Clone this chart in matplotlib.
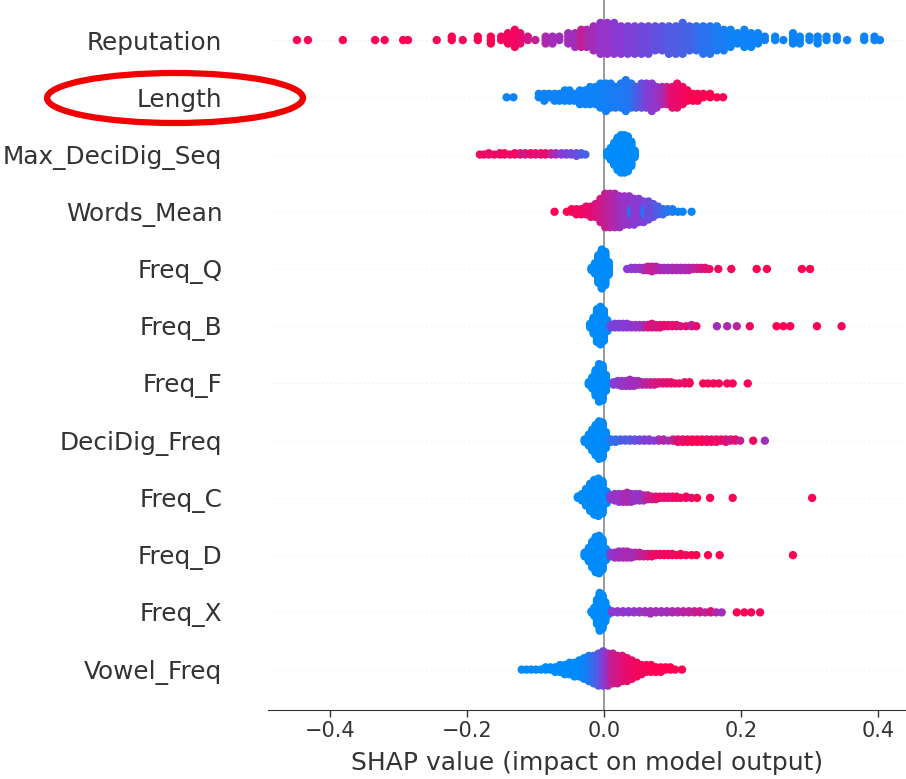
import numpy as np
import matplotlib
matplotlib.use('Agg')
import matplotlib.pyplot as plt
from matplotlib.colors import LinearSegmentedColormap
from matplotlib.patches import Ellipse

# Feature order from bottom (row 0) to top
features = ['Vowel_Freq', 'Freq_X', 'Freq_D', 'Freq_C', 'DeciDig_Freq', 'Freq_F',
            'Freq_B', 'Freq_Q', 'Words_Mean', 'Max_DeciDig_Seq', 'Length', 'Reputation']

# For each feature: SHAP value of a column of points, how many points, feature value (0 low .. 1 high)
reputation_shap = [-0.448, -0.432, -0.381, -0.334, -0.320, -0.293, -0.286, -0.244, -0.222, -0.206,
                   -0.184, -0.165, -0.150, -0.140, -0.130, -0.122, -0.111, -0.100, -0.085, -0.075,
                   -0.065, -0.052, -0.042, -0.033, -0.025, -0.015, -0.005, 0.005, 0.015, 0.025,
                   0.035, 0.045, 0.055, 0.065, 0.075, 0.085, 0.095, 0.105, 0.115, 0.125,
                   0.135, 0.145, 0.155, 0.165, 0.175, 0.185, 0.195, 0.205, 0.215, 0.225,
                   0.235, 0.250, 0.262, 0.276, 0.286, 0.300, 0.312, 0.325, 0.340, 0.355,
                   0.380, 0.395, 0.403]
reputation_n = [1, 1, 1, 1, 1, 1, 1, 1, 2, 1,
                2, 3, 2, 4, 6, 4, 2, 1, 3, 3,
                2, 4, 5, 6, 6, 8, 10, 10, 10, 9,
                9, 9, 9, 9, 8, 8, 9, 9, 10, 8,
                8, 9, 9, 8, 7, 6, 4, 6, 5, 4,
                2, 2, 1, 4, 3, 2, 3, 2, 2, 1,
                2, 2, 1]
reputation_val = [1.0, 1.0, 1.0, 1.0, 1.0, 1.0, 1.0, 0.95, 1.0, 0.95,
                  1.0, 1.0, 0.95, 0.95, 0.95, 0.9, 0.8, 0.75, 0.65, 0.6,
                  0.6, 0.6, 0.6, 0.75, 0.65, 0.6, 0.55, 0.55, 0.5, 0.5,
                  0.45, 0.45, 0.4, 0.4, 0.35, 0.35, 0.3, 0.3, 0.25, 0.25,
                  0.2, 0.15, 0.15, 0.1, 0.1, 0.05, 0.05, 0.05, 0.05, 0.05,
                  0.05, 0.05, 0.05, 0.05, 0.05, 0.05, 0.05, 0.05, 0.05, 0.05,
                  0.05, 0.05, 0.05]

length_shap = [-0.142, -0.132, -0.095, -0.087, -0.080, -0.072, -0.065, -0.057, -0.050, -0.043,
               -0.035, -0.027, -0.020, -0.012, -0.005, 0.003, 0.010, 0.017, 0.025, 0.032,
               0.040, 0.047, 0.055, 0.062, 0.070, 0.077, 0.085, 0.092, 0.100, 0.107,
               0.115, 0.122, 0.130, 0.137, 0.145, 0.155, 0.165, 0.174]
length_n = [1, 1, 2, 3, 2, 3, 3, 4, 4, 3,
            5, 5, 6, 6, 8, 9, 8, 7, 8, 10,
            8, 7, 8, 8, 9, 7, 6, 6, 7, 8,
            6, 4, 3, 3, 2, 2, 1, 1]
length_val = [0.05, 0.05, 0.05, 0.05, 0.05, 0.05, 0.05, 0.05, 0.05, 0.05,
              0.05, 0.05, 0.05, 0.05, 0.05, 0.08, 0.08, 0.1, 0.1, 0.12,
              0.15, 0.25, 0.35, 0.45, 0.5, 0.55, 0.6, 0.75, 0.9, 0.9,
              0.95, 0.95, 1.0, 1.0, 1.0, 1.0, 1.0, 1.0]

maxdeci_shap = [-0.181, -0.175, -0.168, -0.160, -0.152, -0.145, -0.137, -0.130, -0.122, -0.115,
                -0.107, -0.100, -0.092, -0.085, -0.077, -0.070, -0.062, -0.055, -0.048, -0.040,
                -0.033, -0.027, 0.005, 0.010, 0.015, 0.020, 0.025, 0.030, 0.035, 0.040, 0.045]
maxdeci_n = [1, 1, 2, 1, 2, 2, 1, 2, 2, 2,
             2, 2, 2, 2, 2, 2, 2, 2, 2, 3,
             2, 1, 4, 10, 18, 26, 30, 30, 28, 20, 6]
maxdeci_val = [0.95, 0.95, 0.9, 0.95, 0.9, 1.0, 0.9, 0.95, 0.85, 0.8,
               0.9, 0.85, 0.9, 0.9, 0.75, 0.6, 0.5, 0.45, 0.4, 0.4,
               0.3, 0.25, 0.0, 0.0, 0.0, 0.0, 0.0, 0.0, 0.0, 0.0, 0.0]

words_shap = [-0.072, -0.054, -0.047, -0.040, -0.033, -0.026, -0.019, -0.012, -0.005, 0.002,
              0.009, 0.016, 0.023, 0.030, 0.037, 0.040, 0.044, 0.051, 0.058, 0.060,
              0.065, 0.072, 0.079, 0.086, 0.093, 0.100, 0.108, 0.115, 0.128]
words_n = [1, 1, 2, 3, 3, 4, 5, 6, 10, 14,
           14, 14, 13, 12, 12, 3, 11, 10, 9, 3,
           8, 6, 4, 3, 2, 2, 1, 1, 1]
words_val = [1.0, 1.0, 1.0, 0.95, 0.95, 0.9, 0.9, 0.85, 0.8, 0.75,
             0.7, 0.65, 0.6, 0.55, 0.55, 0.1, 0.5, 0.5, 0.45, 0.1,
             0.4, 0.35, 0.3, 0.2, 0.15, 0.1, 0.05, 0.05, 0.05]

freqq_shap = [-0.018, -0.013, -0.008, -0.003, 0.002, 0.007, 0.034, 0.040, 0.046, 0.052,
              0.058, 0.064, 0.070, 0.076, 0.082, 0.088, 0.094, 0.100, 0.106, 0.112,
              0.118, 0.124, 0.130, 0.136, 0.142, 0.148, 0.154, 0.167, 0.186, 0.223,
              0.238, 0.289, 0.301]
freqq_n = [3, 10, 25, 35, 30, 12, 1, 2, 2, 2,
           3, 4, 5, 4, 3, 3, 3, 3, 3, 3,
           3, 3, 2, 2, 2, 2, 1, 1, 1, 1,
           1, 1, 1]
freqq_val = [0.0, 0.0, 0.0, 0.0, 0.0, 0.0, 0.5, 0.5, 0.55, 0.55,
             0.6, 0.7, 0.75, 0.7, 0.65, 0.6, 0.6, 0.6, 0.65, 0.6,
             0.65, 0.65, 0.7, 0.75, 0.8, 0.85, 0.9, 0.95, 0.95, 1.0,
             1.0, 1.0, 1.0]

freqb_shap = [-0.020, -0.015, -0.010, -0.005, 0.000, 0.005, 0.010, 0.016, 0.022, 0.028,
              0.034, 0.040, 0.046, 0.052, 0.058, 0.064, 0.070, 0.076, 0.082, 0.088,
              0.094, 0.100, 0.106, 0.112, 0.120, 0.128, 0.135, 0.165, 0.180, 0.194,
              0.213, 0.252, 0.262, 0.272, 0.311, 0.347]
freqb_n = [4, 14, 28, 32, 26, 10, 3, 4, 4, 4,
           4, 3, 3, 3, 3, 3, 4, 3, 3, 2,
           2, 2, 2, 1, 1, 2, 1, 1, 1, 1,
           1, 1, 1, 1, 1, 1]
freqb_val = [0.0, 0.0, 0.0, 0.0, 0.0, 0.0, 0.4, 0.45, 0.45, 0.5,
             0.5, 0.5, 0.55, 0.55, 0.6, 0.8, 0.85, 0.8, 0.85, 0.9,
             0.9, 0.85, 0.9, 0.8, 0.9, 0.75, 0.9, 0.6, 0.65, 0.7,
             0.95, 1.0, 1.0, 1.0, 1.0, 0.95]

freqf_shap = [-0.022, -0.017, -0.012, -0.007, -0.002, 0.003, 0.014, 0.020, 0.026, 0.032,
              0.038, 0.044, 0.050, 0.056, 0.062, 0.068, 0.074, 0.080, 0.086, 0.092,
              0.098, 0.104, 0.110, 0.118, 0.125, 0.145, 0.152, 0.160, 0.168, 0.180,
              0.188, 0.210]
freqf_n = [3, 10, 22, 32, 30, 14, 3, 4, 5, 5,
           6, 5, 4, 3, 3, 3, 3, 2, 2, 2,
           2, 1, 1, 2, 2, 1, 1, 1, 1, 1,
           1, 1]
freqf_val = [0.0, 0.0, 0.0, 0.0, 0.0, 0.0, 0.45, 0.5, 0.55, 0.55,
             0.6, 0.6, 0.6, 0.65, 0.7, 0.75, 0.8, 0.85, 0.85, 0.9,
             0.9, 0.9, 0.95, 0.9, 0.95, 1.0, 0.95, 1.0, 0.95, 1.0,
             1.0, 1.0]

decifreq_shap = [-0.028, -0.022, -0.017, -0.012, -0.007, -0.002, 0.003, 0.010, 0.017, 0.024,
                 0.031, 0.038, 0.045, 0.052, 0.059, 0.066, 0.073, 0.080, 0.087, 0.094,
                 0.101, 0.108, 0.115, 0.122, 0.129, 0.136, 0.143, 0.150, 0.157, 0.164,
                 0.171, 0.178, 0.185, 0.192, 0.199, 0.218, 0.235]
decifreq_n = [3, 10, 18, 26, 32, 30, 14, 3, 3, 2,
              2, 2, 2, 2, 2, 2, 1, 2, 2, 1,
              2, 3, 3, 3, 3, 3, 3, 3, 3, 3,
              2, 3, 2, 2, 1, 1, 1]
decifreq_val = [0.0, 0.0, 0.0, 0.0, 0.0, 0.0, 0.0, 0.15, 0.2, 0.25,
                0.3, 0.3, 0.35, 0.4, 0.45, 0.5, 0.45, 0.6, 0.7, 0.6,
                0.75, 0.9, 0.9, 0.95, 1.0, 0.95, 1.0, 0.9, 0.95, 0.9,
                0.95, 0.85, 0.8, 0.9, 0.75, 0.95, 0.6]

freqc_shap = [-0.038, -0.032, -0.026, -0.020, -0.014, -0.008, -0.002, 0.004, 0.010, 0.016,
              0.022, 0.028, 0.034, 0.040, 0.046, 0.052, 0.058, 0.064, 0.070, 0.076,
              0.082, 0.088, 0.094, 0.100, 0.106, 0.112, 0.120, 0.128, 0.136, 0.155,
              0.188, 0.304]
freqc_n = [2, 6, 14, 22, 28, 30, 26, 10, 4, 6,
           7, 7, 8, 7, 6, 6, 5, 4, 3, 3,
           2, 2, 2, 2, 2, 1, 2, 1, 1, 1,
           1, 1]
freqc_val = [0.0, 0.0, 0.0, 0.0, 0.0, 0.0, 0.0, 0.0, 0.5, 0.55,
             0.55, 0.6, 0.65, 0.6, 0.55, 0.55, 0.6, 0.75, 0.8, 0.85,
             0.9, 0.85, 0.9, 0.85, 0.95, 0.9, 0.95, 0.9, 1.0, 1.0,
             1.0, 1.0]

freqd_shap = [-0.028, -0.022, -0.017, -0.012, -0.007, -0.002, 0.003, 0.010, 0.016, 0.022,
              0.028, 0.034, 0.040, 0.046, 0.052, 0.058, 0.064, 0.070, 0.076, 0.082,
              0.088, 0.094, 0.100, 0.106, 0.112, 0.120, 0.128, 0.135, 0.152, 0.169,
              0.276]
freqd_n = [4, 12, 22, 30, 32, 26, 10, 4, 5, 6,
           6, 6, 5, 4, 4, 3, 3, 3, 2, 2,
           2, 2, 2, 1, 2, 1, 1, 1, 1, 1,
           1]
freqd_val = [0.0, 0.0, 0.0, 0.0, 0.0, 0.0, 0.0, 0.5, 0.55, 0.6,
             0.6, 0.65, 0.6, 0.65, 0.7, 0.75, 0.8, 0.9, 0.95, 0.9,
             0.95, 1.0, 0.9, 0.95, 1.0, 0.95, 1.0, 1.0, 1.0, 1.0,
             1.0]

freqx_shap = [-0.018, -0.014, -0.010, -0.006, -0.002, 0.002, 0.006, 0.012, 0.020, 0.028,
              0.036, 0.044, 0.052, 0.060, 0.068, 0.076, 0.084, 0.092, 0.100, 0.108,
              0.116, 0.124, 0.132, 0.140, 0.148, 0.156, 0.164, 0.172, 0.194, 0.205,
              0.215, 0.228]
freqx_n = [2, 8, 22, 34, 30, 18, 6, 2, 2, 2,
           2, 2, 2, 2, 3, 2, 2, 2, 2, 2,
           2, 2, 2, 2, 1, 2, 1, 1, 1, 1,
           1, 1]
freqx_val = [0.0, 0.0, 0.0, 0.0, 0.0, 0.0, 0.0, 0.5, 0.5, 0.55,
             0.5, 0.55, 0.55, 0.6, 0.6, 0.6, 0.6, 0.6, 0.65, 0.65,
             0.7, 0.7, 0.75, 0.8, 0.7, 0.85, 0.65, 0.6, 1.0, 1.0,
             0.95, 0.95]

vowel_shap = [-0.120, -0.113, -0.106, -0.099, -0.092, -0.085, -0.078, -0.071, -0.064, -0.057,
              -0.050, -0.043, -0.036, -0.029, -0.022, -0.015, -0.008, -0.001, 0.006, 0.013,
              0.020, 0.027, 0.034, 0.041, 0.048, 0.055, 0.062, 0.069, 0.076, 0.083,
              0.090, 0.097, 0.104, 0.114]
vowel_n = [1, 1, 1, 1, 1, 2, 2, 3, 4, 5,
           6, 7, 8, 10, 12, 13, 15, 16, 15, 14,
           13, 12, 11, 9, 7, 5, 4, 4, 3, 3,
           2, 2, 1, 1]
vowel_val = [0.0, 0.0, 0.0, 0.0, 0.0, 0.0, 0.0, 0.0, 0.0, 0.0,
             0.0, 0.0, 0.0, 0.05, 0.1, 0.2, 0.3, 0.45, 0.6, 0.75,
             0.8, 0.85, 0.9, 0.9, 0.95, 0.95, 0.95, 1.0, 1.0, 1.0,
             1.0, 1.0, 1.0, 1.0]

rows = [
    (vowel_shap, vowel_n, vowel_val),
    (freqx_shap, freqx_n, freqx_val),
    (freqd_shap, freqd_n, freqd_val),
    (freqc_shap, freqc_n, freqc_val),
    (decifreq_shap, decifreq_n, decifreq_val),
    (freqf_shap, freqf_n, freqf_val),
    (freqb_shap, freqb_n, freqb_val),
    (freqq_shap, freqq_n, freqq_val),
    (words_shap, words_n, words_val),
    (maxdeci_shap, maxdeci_n, maxdeci_val),
    (length_shap, length_n, length_val),
    (reputation_shap, reputation_n, reputation_val),
]

# shap-like red/blue colormap
red_blue = LinearSegmentedColormap.from_list(
    'red_blue', ['#008bfb', '#8a3ad4', '#ff0052'])


def swarm_offsets(shaps, row_height=0.4, nbins=100):
    # same stacking as shap's beeswarm
    N = len(shaps)
    quant = np.round(nbins * (shaps - shaps.min()) / (shaps.max() - shaps.min() + 1e-8))
    inds = np.argsort(quant, kind='stable')
    layer = 0
    last_bin = -1
    ys = np.zeros(N)
    for ind in inds:
        if quant[ind] != last_bin:
            layer = 0
        ys[ind] = np.ceil(layer / 2) * ((layer % 2) * 2 - 1)
        layer += 1
        last_bin = quant[ind]
    ys *= 0.9 * (row_height / np.max(ys + 1))
    return ys


fig = plt.figure(figsize=(9.06, 7.79), dpi=100)
ax = fig.add_axes([0.296, 0.089, 0.704, 0.911])

ax.axvline(x=0, color='#888888', lw=1.2, zorder=-1)

for pos, (xs, ns, vals) in enumerate(rows):
    ax.axhline(y=pos, color='#cccccc', lw=0.5, dashes=(1, 5), zorder=-1)
    shaps = np.repeat(np.array(xs, dtype=float), ns)
    cvals = np.repeat(np.array(vals, dtype=float), ns)
    ys = swarm_offsets(shaps)
    ax.scatter(shaps, pos + ys, c=cvals, cmap=red_blue, vmin=0, vmax=1,
               s=36, linewidths=0, alpha=1, zorder=3)

ax.set_xlim(-0.49, 0.441)
ax.set_ylim(-0.70, 11.70)
ax.set_yticks(range(len(features)))
ax.set_yticklabels(features, fontsize=17.8, color='#333333')
ax.tick_params(axis='y', length=0, pad=33)
ax.set_xticks([-0.4, -0.2, 0.0, 0.2, 0.4])
ax.tick_params(axis='x', labelsize=15, labelcolor='#333333', color='#333333',
               length=5, width=1, direction='out')
ax.set_xlabel('SHAP value (impact on model output)', fontsize=18, color='#333333', labelpad=7)

for side in ['top', 'right', 'left']:
    ax.spines[side].set_visible(False)
ax.spines['bottom'].set_color('#333333')

# red ellipse around the Length label
ell = Ellipse((175 / 906, 1 - 98 / 779), 256 / 906, 50 / 779,
              transform=fig.transFigure, fill=False, edgecolor='#f00000', lw=4.5, clip_on=False)
fig.patches.append(ell)

fig.savefig('out.png', dpi=100, facecolor='white')
